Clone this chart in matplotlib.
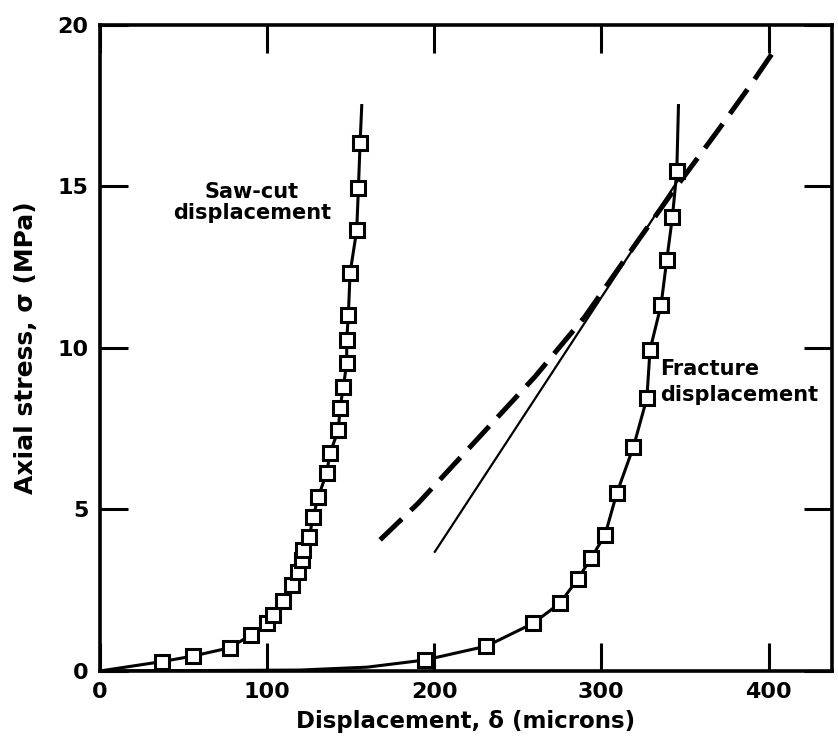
import matplotlib
matplotlib.use("Agg")
import matplotlib.pyplot as plt

# saw-cut displacement (microns) vs axial stress (MPa)
saw_x = [37, 55.5, 77.8, 90.2, 99.8, 103.4, 109.8, 115.2, 118.4, 120.7, 121.7,
         125.3, 127.7, 130.7, 135.7, 137.7, 142.7, 143.7, 145.7, 147.7, 147.7,
         148.7, 149.7, 153.7, 154.7, 155.7]
saw_y = [0.29, 0.46, 0.72, 1.11, 1.48, 1.73, 2.17, 2.66, 3.07, 3.44, 3.75,
         4.16, 4.78, 5.40, 6.12, 6.74, 7.46, 8.13, 8.80, 9.52, 10.25,
         11.02, 12.31, 13.65, 14.94, 16.34]
# where the fitted curve starts and ends
saw_start = (0, 0)
saw_end = (156.7, 17.5)

# fracture displacement
frac_x = [194.4, 231.3, 259.3, 275.2, 285.8, 293.8, 302.2, 309.2, 319.2, 327.2,
          329.1, 335.7, 339.1, 342.5, 345.1]
frac_y = [0.34, 0.77, 1.48, 2.10, 2.84, 3.49, 4.21, 5.50, 6.94, 8.44,
          9.94, 11.33, 12.72, 14.06, 15.46]
frac_lead_x = [0, 120, 160]
frac_lead_y = [0, 0.03, 0.12]
frac_end = (346.1, 17.5)

# dashed curve
dash_x = [167.7, 190.4, 260.3, 290.2, 322.2, 342.1, 370, 390, 405]
dash_y = [4.06, 5.19, 9.11, 10.97, 13.34, 14.79, 16.75, 18.19, 19.33]

# thin straight line
tan_x = [200.4, 346]
tan_y = [3.69, 15.2]

xticks = [0, 100, 200, 300, 400]
xticklabels = ["0", "100", "200", "300", "400"]
yticks = [0, 5, 10, 15, 20]
yticklabels = ["0", "5", "10", "15", "20"]

plt.rcParams['font.family'] = ['DejaVu Sans']
plt.rcParams['font.weight'] = 'bold'

fig = plt.figure(figsize=(8.38, 7.51), dpi=100)
ax = fig.add_axes([0.119, 0.1065, 0.874, 0.8605])

# curves
ax.plot([saw_start[0]] + saw_x + [saw_end[0]], [saw_start[1]] + saw_y + [saw_end[1]],
        color='k', linewidth=2.2)
ax.plot(frac_lead_x + frac_x + [frac_end[0]], frac_lead_y + frac_y + [frac_end[1]],
        color='k', linewidth=2.2)
ax.plot(dash_x, dash_y, color='k', linewidth=3.6, dashes=(6, 2.5))
ax.plot(tan_x, tan_y, color='k', linewidth=1.6)

# open square markers
ax.plot(saw_x, saw_y, linestyle='none', marker='s', markersize=9.5,
        markerfacecolor='white', markeredgecolor='k', markeredgewidth=2.2)
ax.plot(frac_x, frac_y, linestyle='none', marker='s', markersize=9.5,
        markerfacecolor='white', markeredgecolor='k', markeredgewidth=2.2)

ax.text(91, 14.5, "Saw-cut\ndisplacement", ha='center', va='center',
        fontsize=15, fontweight='bold', linespacing=1.1)
ax.text(335, 8.95, "Fracture\ndisplacement", ha='left', va='center',
        fontsize=15, fontweight='bold', linespacing=1.35)

ax.set_xlim(0, 438)
ax.set_ylim(0, 20)
ax.set_xticks(xticks)
ax.set_xticklabels(xticklabels)
ax.set_yticks(yticks)
ax.set_yticklabels(yticklabels)
ax.tick_params(direction='in', length=20, width=2.2, top=True, right=True,
               labelsize=16, pad=8)
for s in ax.spines.values():
    s.set_linewidth(2.6)

ax.set_xlabel("Displacement, δ (microns)", fontsize=16.5, fontweight='bold', labelpad=6)
ax.set_ylabel("Axial stress, σ (MPa)", fontsize=18, fontweight='bold', labelpad=14)

fig.savefig("out.png", dpi=100)
